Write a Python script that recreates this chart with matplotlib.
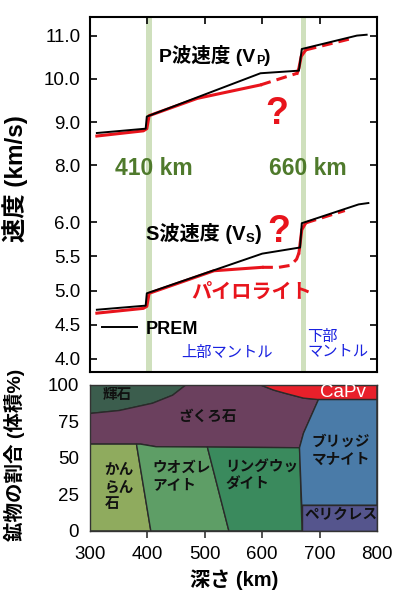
import matplotlib
import matplotlib.pyplot as plt
from matplotlib.lines import Line2D
matplotlib.use('agg')

plt.rcParams['font.family'] = ['Liberation Sans', 'Noto Sans CJK JP']

# velocity profiles: depth (km) and velocity (km/s)
vp_prem_depth = [312, 397, 399, 597, 664, 669, 765, 782]
vp_prem = [8.75, 8.85, 9.13, 10.13, 10.19, 10.69, 11.00, 11.02]
vp_pyr_depth = [312, 393, 399, 403, 487, 597]
vp_pyr = [8.68, 8.80, 8.85, 9.15, 9.55, 9.86]
vp_pyr_dash1_depth = [597, 661]
vp_pyr_dash1 = [9.86, 10.13]
vp_pyr_jump_depth = [661, 664, 668, 676]
vp_pyr_jump = [10.13, 10.25, 10.52, 10.67]
vp_pyr_dash2_depth = [676, 758]
vp_pyr_dash2 = [10.67, 10.94]

vs_prem_depth = [312, 397, 399, 600, 666, 669, 768, 785]
vs_prem = [4.72, 4.78, 4.96, 5.54, 5.63, 5.985, 6.26, 6.28]
vs_pyr_depth = [312, 393, 399, 403, 516, 600]
vs_pyr = [4.67, 4.74, 4.77, 4.96, 5.29, 5.34]
vs_pyr_dash1_depth = [600, 629, 650, 660, 664]
vs_pyr_dash1 = [5.34, 5.34, 5.37, 5.46, 5.55]
vs_pyr_jump_depth = [664, 669, 676]
vs_pyr_jump = [5.55, 5.89, 5.99]
vs_pyr_dash2_depth = [676, 744]
vs_pyr_dash2 = [5.99, 6.17]

discontinuities = [403, 672]
disc_labels = ["410 km", "660 km"]

vp_ticks = [8.0, 9.0, 10.0, 11.0]
vs_ticks = [4.0, 4.5, 5.0, 5.5, 6.0]

# mineral proportion boundaries: depth (km), volume %
px_bound_depth = [300, 351, 409, 444, 467]
px_bound = [80.5, 82.5, 87.5, 93, 100]
capv_bound_depth = [597, 620, 640, 672, 698, 800]
capv_bound = [100, 96.5, 94.3, 91, 90, 90]
gt_low_depth = [300, 388, 415, 665]
gt_low = [59.5, 59.5, 57.7, 57.0]
gt_bm_depth = [665, 672, 698]
gt_bm = [57.0, 67.0, 90.0]
ol_wd_depth = [381, 406]
wd_rw_depth = [504.5, 542]
rw_bm_depth = [665, 669.5]
pc_top = 17.6

mineral_names = ["輝石", "ざくろ石", "CaPv", "かん\nらん\n石", "ウオズレ\nアイト",
                 "リングウッ\nダイト", "ブリッジ\nマナイト", "ペリクレス"]
mineral_colors = ["#3b5d4d", "#6b405e", "#e8202a", "#8fab5e", "#5e9e66",
                  "#3a8a5d", "#4a7ba8", "#55558d"]

fig = plt.figure(figsize=(3.98, 6.02), dpi=100)
pos_top = [0.2261, 0.3821, 0.7211, 0.5897]
ax_p = fig.add_axes(pos_top)
ax_s = fig.add_axes(pos_top, sharex=ax_p)
ax_s.patch.set_visible(False)
ax_m = fig.add_axes([0.2261, 0.118, 0.7211, 0.2425])

red = "#e8141c"
green_band = "#cfe0bd"

# ---- velocity panel
for d in discontinuities:
    ax_p.axvspan(d - 5, d + 5, color=green_band, lw=0, zorder=0)

ax_p.plot(vp_pyr_depth, vp_pyr, color=red, lw=2.2, zorder=2)
ax_p.plot(vp_pyr_dash1_depth, vp_pyr_dash1, color=red, lw=2.2, ls=(0, (3.5, 2)), zorder=2)
ax_p.plot(vp_pyr_jump_depth, vp_pyr_jump, color=red, lw=2.2, zorder=2)
ax_p.plot(vp_pyr_dash2_depth, vp_pyr_dash2, color=red, lw=2.2, ls=(0, (3.5, 2)), zorder=2)
ax_p.plot(vp_prem_depth, vp_prem, color="black", lw=1.4, zorder=3)

ax_s.plot(vs_pyr_depth, vs_pyr, color=red, lw=2.2, zorder=2)
ax_s.plot(vs_pyr_dash1_depth, vs_pyr_dash1, color=red, lw=2.2, ls=(0, (3.5, 2)), zorder=2)
ax_s.plot(vs_pyr_jump_depth, vs_pyr_jump, color=red, lw=2.2, zorder=2)
ax_s.plot(vs_pyr_dash2_depth, vs_pyr_dash2, color=red, lw=2.2, ls=(0, (3.5, 2)), zorder=2)
ax_s.plot(vs_prem_depth, vs_prem, color="black", lw=1.4, zorder=3)

ax_p.set_xlim(300, 800)
ax_p.set_ylim(3.23, 11.43)
ax_s.set_ylim(3.81, 9.0)

ax_p.set_yticks(vp_ticks)
ax_p.set_yticklabels(["%.1f" % v for v in vp_ticks])
ax_s.set_yticks(vs_ticks)
ax_s.set_yticklabels(["%.1f" % v for v in vs_ticks])
for ax in (ax_p, ax_s):
    ax.tick_params(axis="y", which="both", direction="in", left=True, right=True,
                   length=5, width=1.2, labelsize=13.5, pad=7)
ax_p.set_xticks([400, 500, 600, 700])
ax_p.tick_params(axis="x", direction="in", top=True, bottom=False, labelbottom=False,
                 length=5, width=1.2)
ax_s.tick_params(axis="x", top=False, bottom=False, labelbottom=False)
for sp in ax_p.spines.values():
    sp.set_linewidth(1.5)
for sp in ax_s.spines.values():
    sp.set_visible(False)

# P label with subscript
t1 = ax_p.text(421, 10.3, "P波速度 (V", fontsize=14, fontweight="bold", va="bottom")
t2 = ax_p.annotate("P", xy=(1, 0), xycoords=t1, xytext=(0, -1), textcoords="offset points",
                   fontsize=9, fontweight="bold", va="bottom")
ax_p.annotate(")", xy=(1, 0), xycoords=(t2, t1), fontsize=14, fontweight="bold", va="bottom")
ax_p.text(626, 9.18, "?", color=red, fontsize=27, fontweight="bold", ha="center", va="center")
for d, lab in zip(discontinuities, disc_labels):
    ax_p.text(d + 8, 7.94, lab, color="#4f7a2c", fontsize=16.5, fontweight="bold",
              ha="center", va="center")

s1 = ax_s.text(398, 5.68, "S波速度 (V", fontsize=14.5, fontweight="bold", va="bottom")
s2 = ax_s.annotate("S", xy=(1, 0), xycoords=s1, xytext=(0, -1), textcoords="offset points",
                   fontsize=9.5, fontweight="bold", va="bottom")
ax_s.annotate(")", xy=(1, 0), xycoords=(s2, s1), fontsize=14.5, fontweight="bold", va="bottom")
ax_s.text(628, 5.86, "?", color=red, fontsize=27, fontweight="bold", ha="center", va="center")
ax_s.text(582, 4.97, "パイロライト", color=red, fontsize=14.5, fontweight="bold",
          fontstyle="italic", ha="center", va="center")
ax_s.text(538, 4.09, "上部マントル", color="#1a22e0", fontsize=11, ha="center", va="center")
ax_s.text(678, 4.22, "下部\nマントル", color="#1a22e0", fontsize=11, ha="left", va="center",
          linespacing=1.05)
ax_s.legend(handles=[Line2D([], [], color="black", lw=1.4)], labels=["PREM"],
            loc="center left", bbox_to_anchor=(0.042, 0.121), frameon=False,
            borderaxespad=0, borderpad=0, handlelength=1.95, handletextpad=0.45,
            prop={"weight": "bold", "size": 13})

# ---- mineral panel
top_px = [(d, p) for d, p in zip(px_bound_depth, px_bound)]
poly_px = top_px + [(300, 100)]
poly_capv = list(zip(capv_bound_depth, capv_bound)) + [(800, 100)]
poly_gt = (top_px + list(zip(capv_bound_depth[:5], capv_bound[:5]))
           + list(zip(gt_bm_depth[::-1], gt_bm[::-1]))
           + list(zip(gt_low_depth[::-1], gt_low[::-1])))
poly_ol = [(300, 0), (ol_wd_depth[1], 0), (ol_wd_depth[0], gt_low[0]), (300, gt_low[0])]
poly_wd = [(ol_wd_depth[1], 0), (wd_rw_depth[1], 0), (wd_rw_depth[0], 57.5),
           (gt_low_depth[2], gt_low[2]), (gt_low_depth[1], gt_low[1]),
           (ol_wd_depth[0], gt_low[0])]
poly_rw = [(wd_rw_depth[1], 0), (rw_bm_depth[1], 0), (rw_bm_depth[0], gt_low[3]),
           (wd_rw_depth[0], 57.5)]
poly_bm = ([(rw_bm_depth[1] - 0.6, pc_top), (800, pc_top), (800, 90)]
           + list(zip(gt_bm_depth[::-1], gt_bm[::-1])))
poly_pc = [(rw_bm_depth[1], 0), (800, 0), (800, pc_top), (rw_bm_depth[1] - 0.6, pc_top)]

polys = [poly_px, poly_gt, poly_capv, poly_ol, poly_wd, poly_rw, poly_bm, poly_pc]
for poly, col in zip(polys, mineral_colors):
    xs = [p[0] for p in poly]
    ys = [p[1] for p in poly]
    ax_m.fill(xs, ys, facecolor=col, edgecolor="#2a2a2a", lw=1.0)

label_pos = [(348, 93, "center"), (504, 78, "center"), (741, 95.0, "center"),
             (325, 30, "left"), (409, 37.5, "left"), (536, 37.5, "left"),
             (737, 55, "center"), (737, 10.8, "center")]
for name, (x, y, ha), col in zip(mineral_names, label_pos, mineral_colors):
    if name == "CaPv":
        ax_m.text(x, y, name, color="white", fontsize=13.5, ha=ha, va="center")
    else:
        ax_m.text(x, y, name, color="#111111", fontsize=10.5, fontweight="bold",
                  ha=ha, va="center", linespacing=1.3)

ax_m.set_xlim(300, 800)
ax_m.set_ylim(0, 100)
ax_m.set_xticks([300, 400, 500, 600, 700, 800])
ax_m.set_yticks([0, 25, 50, 75, 100])
ax_m.tick_params(axis="x", direction="out", length=5, width=1.2, labelsize=13.5, pad=6,
                 color="#333333")
ax_m.tick_params(axis="y", length=0, labelsize=13.5, pad=8)
xt = ax_m.xaxis.get_major_ticks()
xt[0].tick1line.set_visible(False)
xt[-1].tick1line.set_visible(False)
for sp in ax_m.spines.values():
    sp.set_color("#333333")
    sp.set_linewidth(1.0)

fig.text(15 / 398, 1 - 179 / 602, "速度 (km/s)", rotation=90, fontsize=17.5,
         fontweight="bold", ha="center", va="center")
fig.text(14 / 398, 1 - 455 / 602, "鉱物の割合 (体積%)", rotation=90, fontsize=14,
         fontweight="bold", ha="center", va="center")
fig.text(234 / 398, 1 - 580 / 602, "深さ (km)", fontsize=14.5, fontweight="bold",
         ha="center", va="center")

fig.savefig("out.png", dpi=100)
